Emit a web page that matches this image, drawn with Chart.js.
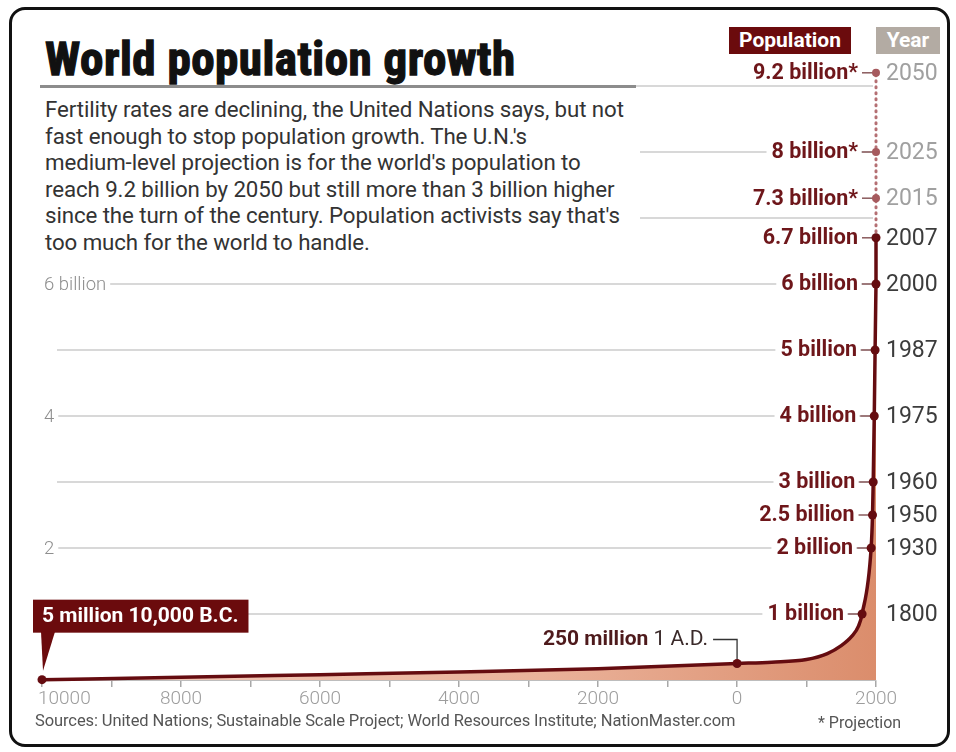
<!DOCTYPE html>
<html><head><meta charset="utf-8">
<script src="https://cdn.jsdelivr.net/npm/chart.js@4/dist/chart.umd.min.js"></script>
<style>
html,body{margin:0;padding:0;background:#fff;}
#wrap{position:relative;width:956px;height:752px;overflow:hidden;font-family:Roboto,"Liberation Sans",sans-serif;}
#c{position:absolute;left:0;top:0;}
.frame{position:absolute;left:9px;top:7px;width:941px;height:740px;box-sizing:border-box;border:3px solid #111;border-radius:16px;pointer-events:none;}
#title{position:absolute;left:40px;top:30px;width:596px;height:55px;background:#fff;border-bottom:3px solid #8c8c8c;}
#title span{position:absolute;left:5px;top:1px;font:bold 47px "Liberation Sans Narrow","Roboto Condensed",Roboto,sans-serif;letter-spacing:0.5px;color:#111;-webkit-text-stroke:1.3px #111;white-space:nowrap;}
#para{position:absolute;left:40px;top:96px;width:600px;height:162px;background:#fff;}
#para p{margin:0;padding-left:5px;font:22.3px/26.6px Roboto,sans-serif;color:#333;white-space:nowrap;letter-spacing:-0.1px;}
.hdr{position:absolute;top:27px;height:27px;color:#fff;font:bold 21px/27px Roboto,sans-serif;text-align:center;}
#src{position:absolute;left:35px;top:711px;font:16.5px Roboto,sans-serif;color:#555;white-space:nowrap;letter-spacing:-0.1px;}
#proj{position:absolute;left:818px;top:713px;font:16px Roboto,sans-serif;color:#555;white-space:nowrap;}
</style></head>
<body>
<div id="wrap">
<canvas id="c" width="956" height="752"></canvas>
<div id="title"><span>World population growth</span></div>
<div id="para"><p>Fertility rates are declining, the United Nations says, but not<br>fast enough to stop population growth. The U.N.'s<br>medium-level projection is for the world's population to<br>reach 9.2 billion by 2050 but still more than 3 billion higher<br>since the turn of the century. Population activists say that's<br>too much for the world to handle.</p></div>
<div class="hdr" style="left:729px;width:122px;background:#6b0b0d;">Population</div>
<div class="hdr" style="left:876px;width:64px;background:#b3aba3;">Year</div>
<div id="src">Sources: United Nations; Sustainable Scale Project; World Resources Institute; NationMaster.com</div>
<div id="proj">* Projection</div>
<div class="frame"></div>
</div>
<script>
// ---- data ----
const X_MIN = -10000, X_MAX = 2000;
const curveYears = [-10000, -8000, -6000, -4000, -2000, 1, 500, 1000, 1300, 1500, 1650, 1750, 1800, 1930, 1950, 1960, 1975, 1987, 2000];
const curvePop   = [0.005, 0.04, 0.08, 0.12, 0.17, 0.25, 0.27, 0.31, 0.4, 0.52, 0.66, 0.82, 1, 2, 2.5, 3, 4, 5, 6];
const milestoneYears  = [1800, 1930, 1950, 1960, 1975, 1987, 2000, 2007];
const milestonePop    = [1, 2, 2.5, 3, 4, 5, 6, 6.7];
const milestoneLabels = ['1 billion', '2 billion', '2.5 billion', '3 billion', '4 billion', '5 billion', '6 billion', '6.7 billion'];
const projYears  = [2015, 2025, 2050];
const projPop    = [7.3, 8, 9.2];
const projLabels = ['7.3 billion*', '8 billion*', '9.2 billion*'];
const startYear = -10000, startPop = 0.005, startLabel = '5 million 10,000 B.C.';
const adYear = 1, adPop = 0.25, adPopLabel = '250 million', adYearLabel = '1 A.D.';
const gridBillions = [1, 2, 3, 4, 5, 6, 7, 8, 9];
const yTickValues = [2, 4, 6];
const yTickLabels = ['2', '4', '6 billion'];
const xTickValues = [-10000, -8000, -6000, -4000, -2000, 0, 2000];
const xTickLabels = ['10000', '8000', '6000', '4000', '2000', '0', '2000'];

const xFor = y => Math.min(y, X_MAX);
const DARK = '#650c10';

const labelPlugin = {
  id: 'labels',
  beforeDatasetsDraw(chart) {
    const {ctx, chartArea: ca, scales: {x: xs, y: ys}} = chart;
    ctx.save();
    // grid lines
    const gx0 = ca.left + 15, gx1 = xs.getPixelForValue(X_MAX) - 3;
    ctx.strokeStyle = '#d8d8d8'; ctx.lineWidth = 2;
    gridBillions.forEach(v => {
      const y = Math.round(ys.getPixelForValue(v));
      ctx.beginPath(); ctx.moveTo(gx0, y); ctx.lineTo(gx1, y); ctx.stroke();
    });
    // left y labels
    ctx.font = '300 18.5px Roboto'; ctx.textBaseline = 'middle'; ctx.textAlign = 'left';
    yTickValues.forEach((v, i) => {
      const y = ys.getPixelForValue(v), t = yTickLabels[i];
      const w = ctx.measureText(t).width;
      ctx.fillStyle = '#fff'; ctx.fillRect(ca.left - 4, y - 10, w + 10, 20);
      ctx.fillStyle = '#8e8e8e'; ctx.fillText(t, ca.left + 2, y + 1);
    });
    // right labels
    const yearX = xs.getPixelForValue(X_MAX) + 10;
    const row = (year, pop, label, proj) => {
      const px = xs.getPixelForValue(xFor(year)), py = ys.getPixelForValue(pop);
      ctx.font = 'bold 21.5px Roboto';
      const w = ctx.measureText(label).width, rx = px - 18;
      ctx.fillStyle = '#fff'; ctx.fillRect(rx - w - 5, py - 12, w + 8, 22);
      ctx.fillStyle = '#6e161a'; ctx.textAlign = 'right'; ctx.fillText(label, rx, py + 1);
      ctx.strokeStyle = '#8a5a5c'; ctx.lineWidth = 1.5;
      ctx.beginPath(); ctx.moveTo(rx + 4, py); ctx.lineTo(px, py); ctx.stroke();
      ctx.font = '23px Roboto'; ctx.textAlign = 'left';
      ctx.fillStyle = proj ? '#a0a0a0' : '#3c3c3c';
      ctx.fillText(String(year), yearX, py + 1);
    };
    milestoneYears.forEach((yr, i) => row(yr, milestonePop[i], milestoneLabels[i], false));
    projYears.forEach((yr, i) => row(yr, projPop[i], projLabels[i], true));
    // start callout
    const sx = xs.getPixelForValue(startYear), sy = ys.getPixelForValue(startPop);
    ctx.font = 'bold 21px Roboto';
    const sw = ctx.measureText(startLabel).width;
    const bx = sx - 9, by = sy - 80, bh = 33;
    ctx.fillStyle = '#6b0b0d';
    ctx.fillRect(bx, by, sw + 19, bh);
    ctx.beginPath(); ctx.moveTo(sx - 1, by + bh - 1); ctx.lineTo(sx + 13, by + bh - 1); ctx.lineTo(sx + 1, sy - 9); ctx.closePath(); ctx.fill();
    ctx.fillStyle = '#fff'; ctx.textAlign = 'left';
    ctx.fillText(startLabel, bx + 9, by + bh / 2 + 1);
    // 1 A.D. label
    const ax = xs.getPixelForValue(adYear), ay = ys.getPixelForValue(adPop);
    const ty = ay - 24, tr = ax - 29;
    ctx.font = '21px Roboto';
    const w2 = ctx.measureText(' ' + adYearLabel).width;
    ctx.fillStyle = '#3a2a2a'; ctx.textAlign = 'right';
    ctx.fillText(' ' + adYearLabel, tr, ty);
    ctx.font = 'bold 21px Roboto';
    ctx.fillStyle = '#4e1a1c';
    ctx.fillText(adPopLabel, tr - w2, ty);
    ctx.strokeStyle = '#333'; ctx.lineWidth = 1.3;
    ctx.beginPath(); ctx.moveTo(tr + 5, ty); ctx.lineTo(ax, ty); ctx.lineTo(ax, ay - 4); ctx.stroke();
    ctx.restore();
  },
  afterDraw(chart) {
    const {ctx, chartArea: ca, scales: {x: xs}} = chart;
    ctx.save();
    ctx.font = '300 19px Roboto'; ctx.fillStyle = '#9d9d9d'; ctx.textBaseline = 'middle';
    xTickValues.forEach((v, i) => {
      const px = xs.getPixelForValue(v);
      if (i === 0) { ctx.textAlign = 'left'; ctx.fillText(xTickLabels[i], px - 4, ca.bottom + 19); }
      else { ctx.textAlign = 'center'; ctx.fillText(xTickLabels[i], px, ca.bottom + 19); }
    });
    ctx.restore();
  }
};

const curveData = curveYears.map((x, i) => ({x, y: curvePop[i]}));
const recentData = milestoneYears.map((x, i) => ({x: xFor(x), y: milestonePop[i]})).filter(p => p.x >= X_MAX);
const markerData = [{x: startYear, y: startPop}, {x: adYear, y: adPop}]
  .concat(milestoneYears.map((x, i) => ({x: xFor(x), y: milestonePop[i]})));
const projData = [{x: xFor(milestoneYears[milestoneYears.length - 1]), y: milestonePop[milestonePop.length - 1]}]
  .concat(projYears.map((x, i) => ({x: xFor(x), y: projPop[i]})));

new Chart(document.getElementById('c'), {
  type: 'line',
  data: {
    datasets: [
      {
        data: curveData, order: 3, borderColor: DARK, borderWidth: 3.5,
        cubicInterpolationMode: 'monotone', pointRadius: 0, fill: 'origin', clip: false,
        backgroundColor: (ctx) => {
          const ca = ctx.chart.chartArea;
          if (!ca) return '#e0a084';
          const g = ctx.chart.ctx.createLinearGradient(ca.left, 0, ca.right, 0);
          g.addColorStop(0, '#f4cfc0'); g.addColorStop(0.6, '#eab29a'); g.addColorStop(1, '#db8d6c');
          return g;
        }
      },
      {
        data: recentData, order: 2, borderColor: DARK, borderWidth: 3.5, tension: 0,
        pointRadius: 0, fill: false, clip: false
      },
      {
        data: projData, order: 1, borderColor: '#b46f73', borderWidth: 3, borderDash: [1, 5],
        borderCapStyle: 'round', tension: 0, fill: false, clip: false,
        pointRadius: [0, 4, 4, 4], pointBackgroundColor: '#a65a5e', pointBorderWidth: 0
      },
      {
        data: markerData, order: 0, showLine: false, fill: false, clip: false,
        pointRadius: 4.5, pointBackgroundColor: DARK, pointBorderWidth: 0
      }
    ]
  },
  options: {
    responsive: false, animation: false, devicePixelRatio: 1, events: [],
    layout: {padding: {left: 42, right: 80, top: 20, bottom: 64}},
    plugins: {legend: {display: false}, tooltip: {enabled: false}},
    scales: {
      x: {
        type: 'linear', min: X_MIN, max: X_MAX,
        ticks: {display: false, stepSize: 1000},
        grid: {drawOnChartArea: false, drawTicks: true, tickLength: 7, color: '#a8a8a8', lineWidth: 1.5},
        border: {display: true, color: '#bdbdbd', width: 1},
        afterFit(s) { s.height = 8; }
      },
      y: {type: 'linear', min: 0, max: 10, display: false}
    }
  },
  plugins: [labelPlugin]
});
</script>
</body></html>
